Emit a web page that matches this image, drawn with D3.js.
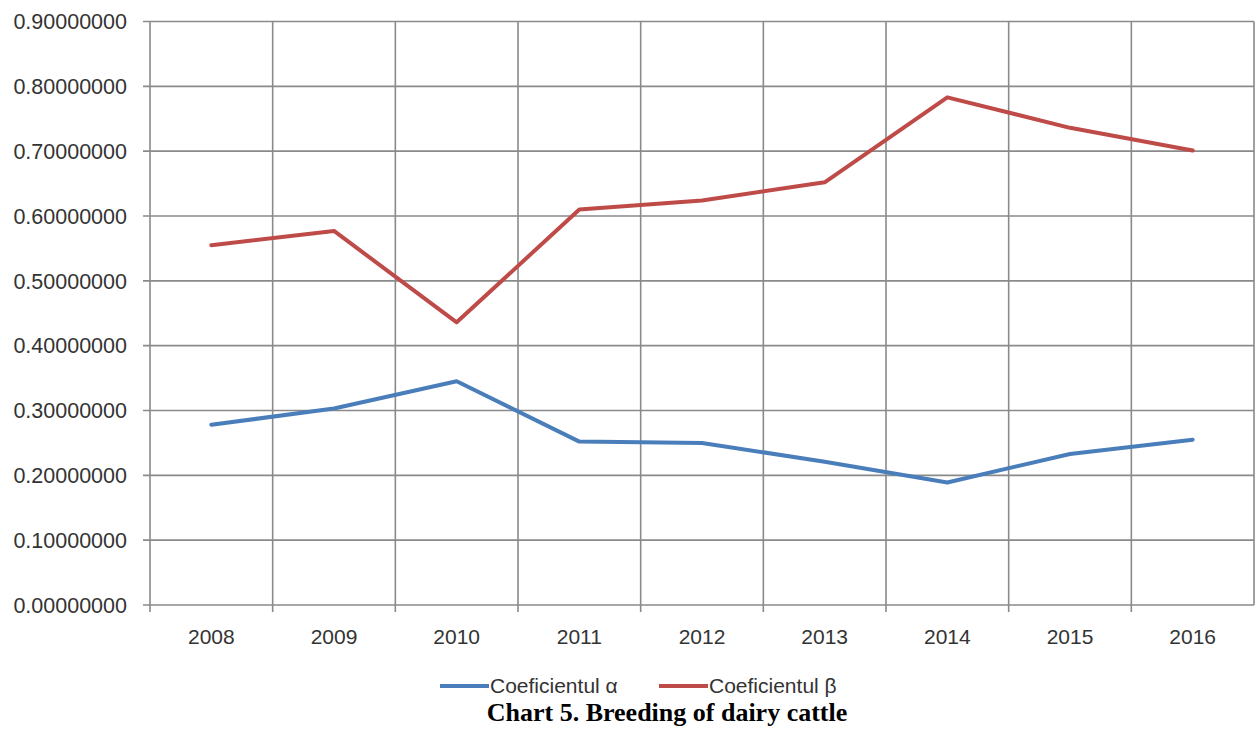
<!DOCTYPE html>
<html>
<head>
<meta charset="utf-8">
<script src="https://cdn.jsdelivr.net/npm/d3@7"></script>
<style>
  html, body { margin: 0; padding: 0; background: #ffffff; }
  svg { display: block; }
</style>
</head>
<body>
<svg id="chart" width="1255" height="729"></svg>
<script>
// Years on the category axis
const years = ["2008", "2009", "2010", "2011", "2012", "2013", "2014", "2015", "2016"];
// Coefficient alpha per year
const alphaValues = [0.278, 0.303, 0.345, 0.252, 0.250, 0.221, 0.189, 0.233, 0.255];
// Coefficient beta per year
const betaValues = [0.555, 0.577, 0.436, 0.610, 0.624, 0.652, 0.783, 0.736, 0.701];
// Value axis ticks
const yTicks = [0, 0.1, 0.2, 0.3, 0.4, 0.5, 0.6, 0.7, 0.8, 0.9];
const seriesNames = ["Coeficientul \u03b1", "Coeficientul \u03b2"];
const seriesColors = ["#4a7ebb", "#be4b48"];

const svg = d3.select("#chart");
const plotLeft = 150, plotRight = 1254, plotTop = 21.5, plotBottom = 605;

const x = d3.scaleBand().domain(years).range([plotLeft, plotRight]).padding(0);
const y = d3.scaleLinear().domain([0, 0.9]).range([plotBottom, plotTop]);

const gridColor = "#8a8a8a";
const labelFont = "'Liberation Sans', Arial, sans-serif";
const textColor = "#333333";

// Horizontal gridlines (extend left as tick marks)
svg.append("g")
  .selectAll("line")
  .data(yTicks)
  .join("line")
  .attr("x1", plotLeft - 7)
  .attr("x2", plotRight)
  .attr("y1", d => y(d))
  .attr("y2", d => y(d))
  .attr("stroke", gridColor)
  .attr("stroke-width", 1.6);

// Vertical gridlines at category boundaries (extend below as tick marks)
const bounds = years.map(d => x(d)).concat([plotRight]);
svg.append("g")
  .selectAll("line")
  .data(bounds)
  .join("line")
  .attr("x1", d => d)
  .attr("x2", d => d)
  .attr("y1", plotTop)
  .attr("y2", (d, i) => i === bounds.length - 1 ? plotBottom : plotBottom + 7)
  .attr("stroke", gridColor)
  .attr("stroke-width", 1.6);

// Value axis labels
svg.append("g")
  .selectAll("text")
  .data(yTicks)
  .join("text")
  .attr("x", 127)
  .attr("y", d => y(d))
  .attr("dy", "0.36em")
  .attr("text-anchor", "end")
  .attr("font-family", labelFont)
  .attr("font-size", 21.5)
  .attr("fill", textColor)
  .text(d => d.toFixed(8));

// Category labels
svg.append("g")
  .selectAll("text")
  .data(years)
  .join("text")
  .attr("x", d => x(d) + x.bandwidth() / 2)
  .attr("y", 636)
  .attr("dy", "0.36em")
  .attr("text-anchor", "middle")
  .attr("font-family", labelFont)
  .attr("font-size", 21)
  .attr("fill", textColor)
  .text(d => d);

// Series lines
const line = d3.line()
  .x((d, i) => x(years[i]) + x.bandwidth() / 2)
  .y(d => y(d));

[alphaValues, betaValues].forEach((vals, k) => {
  svg.append("path")
    .datum(vals)
    .attr("d", line)
    .attr("fill", "none")
    .attr("stroke", seriesColors[k])
    .attr("stroke-width", 4)
    .attr("stroke-linejoin", "round")
    .attr("stroke-linecap", "round");
});

// Legend
const legendY = 686;
const legendItems = [
  { name: seriesNames[0], color: seriesColors[0], x0: 440 },
  { name: seriesNames[1], color: seriesColors[1], x0: 659 }
];
const legend = svg.append("g");
legendItems.forEach(it => {
  legend.append("line")
    .attr("x1", it.x0).attr("x2", it.x0 + 49)
    .attr("y1", legendY).attr("y2", legendY)
    .attr("stroke", it.color)
    .attr("stroke-width", 4);
  legend.append("text")
    .attr("x", it.x0 + 50)
    .attr("y", legendY)
    .attr("dy", "0.34em")
    .attr("font-family", labelFont)
    .attr("font-size", 21)
    .attr("fill", textColor)
    .text(it.name);
});

// Caption
svg.append("text")
  .attr("x", 667)
  .attr("y", 721)
  .attr("text-anchor", "middle")
  .attr("font-family", "'Liberation Serif', 'Times New Roman', serif")
  .attr("font-weight", "bold")
  .attr("font-size", 26)
  .attr("fill", "#000")
  .text("Chart 5. Breeding of dairy cattle");
</script>
</body>
</html>
